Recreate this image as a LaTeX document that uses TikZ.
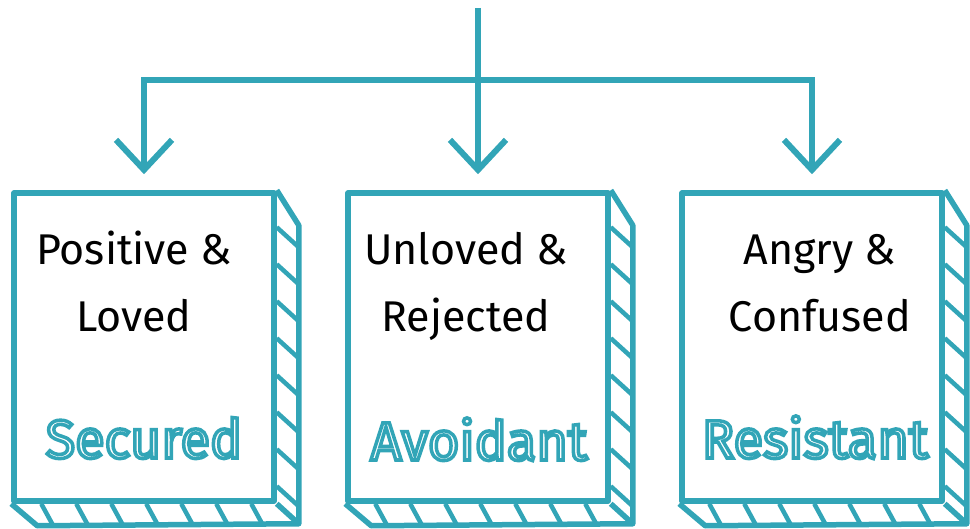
\documentclass[tikz,border=0pt]{standalone}
\usepackage{fontspec}
\setmainfont{Fira Sans}
\usetikzlibrary{arrows.meta, positioning}
\definecolor{tealline}{RGB}{50,165,183}
% outlined (inline) lettering: white fill, teal stroke
\newcommand{\inlinetext}[1]{\special{pdf:literal direct 2 Tr 3.5 w 0.196 0.647 0.718 RG}#1\special{pdf:literal direct 0 Tr}}

\begin{document}
\begin{tikzpicture}[x=1pt, y=-1pt,
  boxline/.style={draw=tealline, line width=5.5pt, line join=round},
  hatch/.style={draw=tealline, line width=4.5pt},
  front/.style={boxline, fill=white, minimum width=260pt, minimum height=308pt, inner sep=0pt},
  flow/.style={draw=tealline, line width=6pt, -{Straight Barb[length=30pt, width=56pt]}, shorten >=16pt},
  feeling/.style={font=\fontsize{43}{67}\selectfont, align=center, anchor=base},
  tagline/.style={font=\fontsize{54}{60}\selectfont, text=white, anchor=base}]
\useasboundingbox (0,0) rectangle (970,529);

% Boxes with hatched side and bottom
\foreach \name/\cx in {secured/144, avoidant/478, resistant/812} {
  \node[front] (\name) at (\cx,347) {};
  \draw[boxline] (\name.north east) -- ++(22,35) -- ([shift={(22,20)}]\name.south east)
    -- ([shift={(26,22)}]\name.south west) -- (\name.south west);
  \draw[boxline] (\name.south east) -- ++(22,20);
  \foreach \d in {37,74,...,296}
    \draw[hatch] ([shift={(0,\d)}]\name.north east) -- ++(22,20);
  \foreach \d in {30,65,...,240}
    \draw[hatch] ([shift={(\d,0)}]\name.south west) -- ++(12,22);
}

% Texts
\node[feeling] (secured-text) at (134,332) {Positive \&\\Loved};
\node[feeling] (avoidant-text) at (466,332) {Unloved \&\\Rejected};
\node[feeling] (resistant-text) at (820,332) {Angry \&\\Confused};

\node[tagline] (secured-tag) at (144,458) {\inlinetext{Secured}};
\node[tagline] (avoidant-tag) at (479,460) {\inlinetext{Avoidant}};
\node[tagline] (resistant-tag) at (815,458) {\inlinetext{Resistant}};

% Arrows
\coordinate (top) at (478,8);
\coordinate (hub) at (478,80);
\draw[flow] (top) -- (avoidant.north);
\draw[flow] (hub) -| (secured.north);
\draw[flow] (hub) -| (resistant.north);
\end{tikzpicture}
\end{document}
